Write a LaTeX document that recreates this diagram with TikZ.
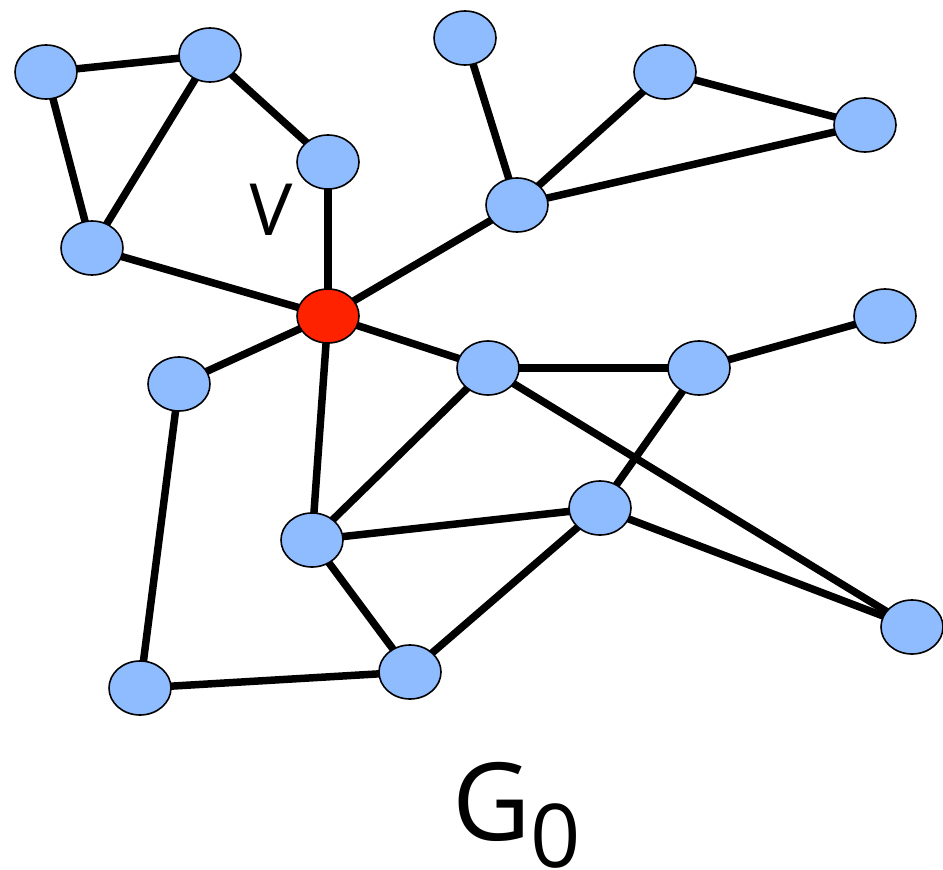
\documentclass[tikz,border=0pt]{standalone}
\usepackage{fontspec}
\setmainfont{Open Sans}
\usetikzlibrary{shapes.geometric,backgrounds}
\definecolor{nodeblue}{HTML}{8FBCFF}
\definecolor{nodered}{HTML}{FF2200}
\begin{document}
\begin{tikzpicture}[x=1pt,y=-1pt,
  vert/.style={ellipse,draw=black,line width=1.6pt,fill=nodeblue,minimum width=62pt,minimum height=54pt,inner sep=0pt},
  redvert/.style={vert,fill=nodered},
  edge/.style={line width=7.5pt,black}]
\useasboundingbox (0,0) rectangle (943,870);
\node[vert] (n1) at (46,72) {};
\node[vert] (n2) at (210,55) {};
\node[vert] (n3) at (328,162) {};
\node[vert] (n4) at (92,248) {};
\node[vert] (n5) at (465,38) {};
\node[vert] (n6) at (665,72) {};
\node[vert] (n7) at (865,125) {};
\node[vert] (n8) at (517,205) {};
\node[redvert] (v) at (328,316) {};
\node[vert] (n10) at (885,316) {};
\node[vert] (n11) at (179,384) {};
\node[vert] (n12) at (488,368) {};
\node[vert] (n13) at (699,368) {};
\node[vert] (n14) at (600,508) {};
\node[vert] (n15) at (312,540) {};
\node[vert] (n16) at (912,627) {};
\node[vert] (n17) at (140,688) {};
\node[vert] (n18) at (410,672) {};
\begin{pgfonlayer}{background}
\foreach \a/\b in {n1/n2,n1/n4,n2/n4,n2/n3,n3/v,n4/v,n5/n8,n8/n6,n6/n7,n8/n7,n8/v,v/n11,v/n12,v/n15,n12/n13,n13/n10,n12/n15,n12/n16,n13/n14,n15/n14,n14/n16,n15/n18,n18/n14,n11/n17,n17/n18}
  \draw[edge] (\a.center) -- (\b.center);
\end{pgfonlayer}
\node[inner sep=0pt,anchor=center] (vlabel) at (269,210) {\fontsize{72}{72}\selectfont\addfontfeature{FakeSlant=0.05}V};
\node[inner sep=0pt,anchor=base west] (glabel) at (452,840) {\fontsize{108}{108}\selectfont G\raisebox{-27pt}{\fontsize{88}{88}\selectfont 0}};
\end{tikzpicture}
\end{document}
